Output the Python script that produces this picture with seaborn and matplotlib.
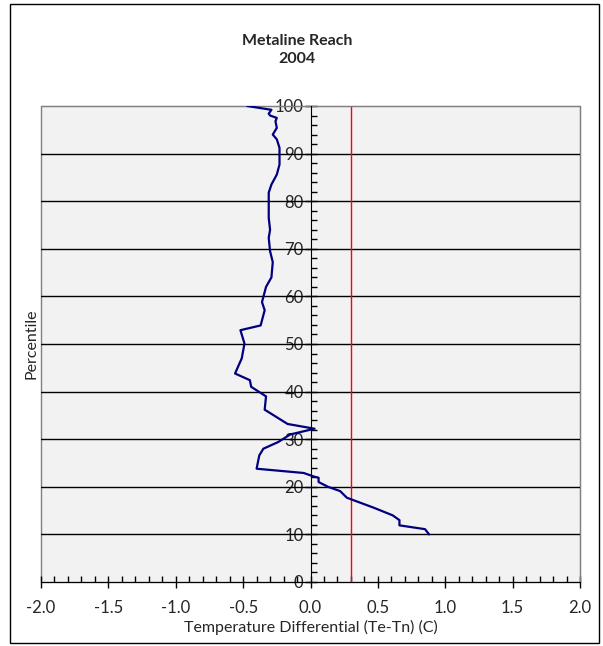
import numpy as np
import matplotlib
matplotlib.use("Agg")
import matplotlib.pyplot as plt
import seaborn as sns
from matplotlib.patches import Rectangle
from matplotlib.ticker import MultipleLocator

# Percentile vs temperature differential
temp_diff = [-0.47, -0.29, -0.31, -0.30, -0.25, -0.26, -0.25, -0.28, -0.25, -0.23,
             -0.23, -0.23, -0.25, -0.29, -0.31, -0.31, -0.31, -0.30, -0.31, -0.30,
             -0.28, -0.29, -0.33, -0.36, -0.34, -0.37, -0.52, -0.49, -0.51, -0.56,
             -0.45, -0.44, -0.33, -0.34, -0.17, 0.03, -0.15, -0.24, -0.35, -0.38,
             -0.40, -0.05, 0.02, 0.06, 0.06, 0.13, 0.22, 0.27, 0.47, 0.61,
             0.66, 0.66, 0.85, 0.88]
percentile = [100.0, 99.2, 98.4, 98.0, 97.5, 96.8, 95.4, 94.0, 93.0, 91.2,
              89.8, 87.7, 85.6, 83.5, 81.8, 79.3, 76.5, 74.0, 72.3, 69.5,
              67.2, 64.0, 62.0, 58.8, 57.1, 53.9, 52.9, 50.1, 47.0, 43.8,
              42.4, 41.0, 39.0, 36.2, 33.2, 32.2, 31.0, 29.4, 28.0, 26.6,
              23.8, 22.9, 22.2, 21.9, 21.0, 20.0, 19.1, 17.7, 15.6, 14.0,
              13.0, 11.9, 11.1, 10.0]
threshold = 0.3
x_ticks = [-2.0, -1.5, -1.0, -0.5, 0.0, 0.5, 1.0, 1.5, 2.0]
y_ticks = [0, 10, 20, 30, 40, 50, 60, 70, 80, 90, 100]

sns.set_style("white")
plt.rcParams['font.family'] = ['Lato', 'DejaVu Sans']

fig = plt.figure(figsize=(6.03, 6.46), dpi=100)
ax = fig.add_axes([41 / 603, 64 / 646, 539 / 603, 476 / 646])
ax.set_facecolor("#f2f2f2")

# horizontal gridlines
for y in y_ticks[1:-1]:
    ax.axhline(y, color="black", lw=1, zorder=1)

ax.axvline(threshold, color="red", lw=1, zorder=2)
sns.lineplot(x=temp_diff, y=percentile, sort=False, estimator=None,
             color="#000080", lw=1.6, ax=ax, zorder=3)

ax.set_xlim(-2, 2)
ax.set_ylim(0, 100)
ax.set_xticks(x_ticks)
ax.set_xticklabels([f"{v:.1f}" for v in x_ticks])
ax.set_yticks(y_ticks)
ax.xaxis.set_minor_locator(MultipleLocator(0.1))
ax.yaxis.set_minor_locator(MultipleLocator(2))

ax.spines['left'].set_position(('data', 0))
for s in ['top', 'right']:
    ax.spines[s].set_color("#808080")
for s in ['left', 'bottom']:
    ax.spines[s].set_color("black")
    ax.spines[s].set_zorder(4)
ax.add_patch(Rectangle((0, 0), 1, 1, transform=ax.transAxes, fill=False,
                       edgecolor="#808080", lw=1, zorder=0.5, clip_on=False))

ax.tick_params(axis='both', which='major', direction='inout', length=8,
               width=1, color="black", labelsize=12, left=True, bottom=True)
ax.tick_params(axis='both', which='minor', direction='in', length=4,
               width=1, color="black", left=True, bottom=True)
ax.tick_params(axis='x', which='major', pad=9)
ax.tick_params(axis='y', which='major', pad=1)

ax.set_xlabel("Temperature Differential (Te-Tn) (C)", fontsize=11.5)
ax.set_ylabel("Percentile", fontsize=11.5)
ax.xaxis.set_label_coords(0.5, -0.08)
ax.yaxis.set_label_coords(-0.005, 0.5)

fig.text(297 / 603, 1 - 50 / 646, "Metaline Reach\n2004", ha="center",
         va="center", fontsize=11.5, fontweight="bold", linespacing=1.45)

# outer chart border
fig.add_artist(Rectangle((10 / 603, 3 / 646), 589 / 603, 639 / 646,
                         transform=fig.transFigure, fill=False,
                         edgecolor="black", lw=1))

fig.savefig("out.png", dpi=100)
